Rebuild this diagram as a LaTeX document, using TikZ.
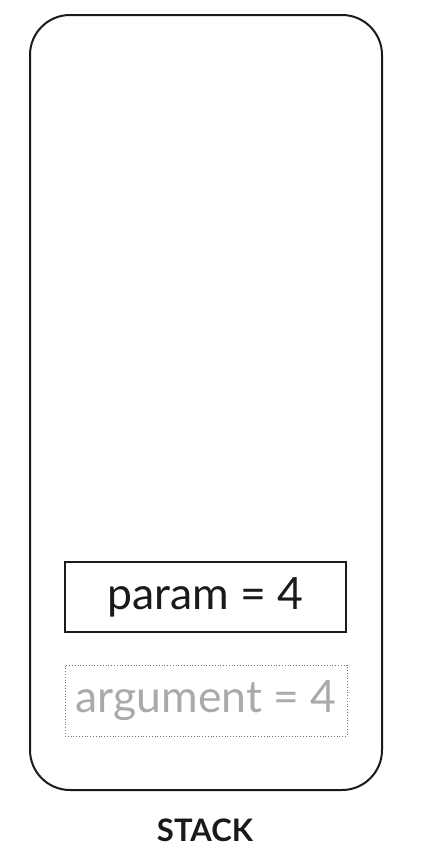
\documentclass[tikz,border=0pt]{standalone}
\usepackage{fontspec}
\setmainfont{Lato}
\definecolor{inkc}{HTML}{1A1A1A}
\definecolor{greyc}{HTML}{AAAAAA}
\begin{document}
\begin{tikzpicture}[x=1pt,y=-1pt,
  stackbox/.style={draw=inkc,line width=2pt,rounded corners=40pt},
  membox/.style={draw=inkc,line width=1.5pt,minimum width=281pt,minimum height=70pt,inner sep=0pt,font=\fontsize{44.5}{46}\selectfont,text=inkc},
  ghostbox/.style={draw=black!55,dotted,line width=0.8pt,minimum width=282pt,minimum height=71pt,inner sep=0pt,font=\fontsize{44.5}{46}\selectfont,text=greyc},
  title/.style={font=\fontsize{31}{33}\selectfont\bfseries,text=inkc}]
\useasboundingbox (0,0) rectangle (424,860);
\draw[stackbox] (30,15) rectangle (382,790);
\node[membox] (param) at (205.5,597) {param = 4};
\node[ghostbox] (arg) at (206,700.5) {argument = 4};
\node[title] (stack) at (205,830) {STACK};
\end{tikzpicture}
\end{document}
